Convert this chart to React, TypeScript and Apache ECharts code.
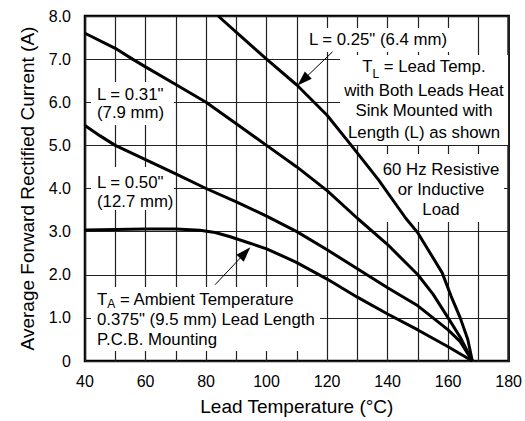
import React, { useEffect, useRef } from "react";
import * as echarts from "echarts";

// ---- axes ----
const X_MIN = 40;
const X_MAX = 180;
const X_STEP = 20;
const Y_MIN = 0;
const Y_MAX = 8;
const Y_STEP = 1;
const X_NAME = "Lead Temperature (°C)";
const Y_NAME = "Average Forward Rectified Current (A)";

// ---- curves: [lead temperature °C, current A] ----
const L025: [number, number][] = [
  [84, 8.0], [92, 7.5], [100, 7.0], [110, 6.4], [120, 5.7], [128, 5.0],
  [137, 4.2], [146, 3.31], [150, 2.97], [158, 2.05], [161, 1.5], [164, 1.0],
  [166.5, 0.5], [168, 0],
];
const L031: [number, number][] = [
  [40, 7.6], [50, 7.25], [55.7, 7.0], [60, 6.82], [70, 6.41], [80, 6.0],
  [90, 5.5], [100, 5.0], [110, 4.5], [120, 3.95], [130, 3.31], [140, 2.7],
  [150, 2.0], [155, 1.55], [160, 1.0], [164, 0.55], [168, 0],
];
const L050: [number, number][] = [
  [40, 5.46], [45, 5.22], [50, 5.0], [60, 4.67], [70, 4.34], [80, 4.0],
  [90, 3.69], [100, 3.36], [110, 3.0], [120, 2.58], [130, 2.14], [140, 1.7],
  [150, 1.28], [160, 0.72], [164, 0.45], [168, 0],
];
const TA: [number, number][] = [
  [40, 3.04], [60, 3.06], [70, 3.06], [78, 3.03], [83, 2.98], [88, 2.88],
  [95, 2.72], [100, 2.6], [107, 2.38], [110, 2.28], [120, 1.9], [130, 1.48],
  [140, 1.09], [150, 0.72], [160, 0.33], [168, 0],
];

// ---- arrows: [tail, head] in data coordinates ----
const ARROW_025: [number, number][] = [[121.8, 7.17], [112.0, 6.51]];
const ARROW_TA: [number, number][] = [[83.0, 1.77], [92.95, 2.51]];

// ---- annotation texts ----
const TXT_025 = 'L = 0.25" (6.4 mm)';
const TXT_TL_REST = " = Lead Temp.";
const TXT_TL_LINES = ["with Both Leads Heat", "Sink Mounted with", "Length (L) as shown"];
const TXT_60HZ = ["60 Hz Resistive", "or Inductive", "Load"];
const TXT_031 = ['L = 0.31"', "(7.9 mm)"];
const TXT_050 = ['L = 0.50"', "(12.7 mm)"];
const TXT_TA_REST = " = Ambient Temperature";
const TXT_TA_LINES = ['0.375" (9.5 mm) Lead Length', "P.C.B. Mounting"];

const FONT_FAMILY = '"Liberation Sans", Arial, Helvetica, sans-serif';
const ANN = 16.8;
const SUB = 12;

function textWidth(t: string, size: number): number {
  const ctx = document.createElement("canvas").getContext("2d");
  if (!ctx) return t.length * size * 0.55;
  ctx.font = `${size}px ${FONT_FAMILY}`;
  return ctx.measureText(t).width;
}

function txt(text: string, x: number, y: number, align = "center", size = ANN) {
  return {
    type: "text",
    x,
    y,
    z: 1,
    silent: true,
    style: {
      text,
      font: `${size}px ${FONT_FAMILY}`,
      fill: "#000",
      textAlign: align,
      textVerticalAlign: "middle",
    },
  };
}

function box(x: number, y: number, w: number, h: number) {
  return {
    type: "rect",
    z: 1,
    silent: true,
    shape: { x, y, width: w, height: h },
    style: { fill: "#fff" },
  };
}

export default function App() {
  const ref = useRef<HTMLDivElement>(null);

  useEffect(() => {
    if (!ref.current) return;
    const chart = echarts.init(ref.current, undefined, { renderer: "svg" });

    // T_L line composed of pieces, centred at 424
    const wT = textWidth("T", ANN);
    const wL = textWidth("L", SUB);
    const wRest = textWidth(TXT_TL_REST, ANN);
    const tlStart = 424 - (wT + wL + wRest) / 2;
    const wTA_T = wT;
    const wA = textWidth("A", SUB);

    const graphics: any[] = [
      box(305, 28, 147, 24),
      txt(TXT_025, 378, 39),

      box(340, 55, 168, 90),
      txt("T", tlStart, 66, "left"),
      txt("L", tlStart + wT, 74, "left", SUB),
      txt(TXT_TL_REST, tlStart + wT + wL, 66, "left"),
      txt(TXT_TL_LINES[0], 424, 90),
      txt(TXT_TL_LINES[1], 424, 110.5),
      txt(TXT_TL_LINES[2], 424, 132),

      box(379, 154, 125, 68),
      txt(TXT_60HZ[0], 441, 169),
      txt(TXT_60HZ[1], 441, 189),
      txt(TXT_60HZ[2], 441, 209),

      box(91, 82, 83, 43),
      txt(TXT_031[0], 97, 94, "left"),
      txt(TXT_031[1], 97, 112, "left"),

      box(91, 167, 83, 43),
      txt(TXT_050[0], 97, 182.5, "left"),
      txt(TXT_050[1], 97, 201, "left"),

      box(91, 287, 229, 64),
      txt("T", 97, 299, "left"),
      txt("A", 97 + wTA_T, 304, "left", SUB),
      txt(TXT_TA_REST, 97 + wTA_T + wA, 299, "left"),
      txt(TXT_TA_LINES[0], 97, 319, "left"),
      txt(TXT_TA_LINES[1], 97, 339, "left"),
    ];

    const lineSeries = (data: [number, number][], extra: any = {}) => ({
      type: "line",
      data,
      showSymbol: false,
      symbol: "none",
      silent: true,
      z: 2,
      lineStyle: { color: "#000", width: 3 },
      itemStyle: { color: "#000" },
      ...extra,
    });

    const arrowItem = (a: [number, number][]) => [
      { coord: a[0], symbol: "none" },
      { coord: a[1], symbol: "triangle", symbolSize: [10, 15] },
    ];

    chart.setOption({
      animation: false,
      backgroundColor: "#fff",
      textStyle: { fontFamily: FONT_FAMILY },
      grid: {
        left: 85,
        right: 14,
        top: 16,
        bottom: 57,
        show: true,
        borderColor: "#000",
        borderWidth: 2.5,
        backgroundColor: "transparent",
      },
      xAxis: {
        type: "value",
        min: X_MIN,
        max: X_MAX,
        interval: X_STEP,
        axisLine: { show: false },
        axisTick: { show: false },
        axisLabel: { fontSize: 16, color: "#000", margin: 12, fontFamily: FONT_FAMILY },
        splitLine: { show: true, lineStyle: { color: "#222", width: 1.2 } },
        minorTick: { show: false, splitNumber: 2 },
        minorSplitLine: { show: true, lineStyle: { color: "#222", width: 1.2 } },
        name: X_NAME,
        nameLocation: "middle",
        nameGap: 36,
        nameTextStyle: { fontSize: 19, color: "#000", fontFamily: FONT_FAMILY },
      },
      yAxis: {
        type: "value",
        min: Y_MIN,
        max: Y_MAX,
        interval: Y_STEP,
        axisLine: { show: false },
        axisTick: { show: false },
        axisLabel: {
          fontSize: 16,
          color: "#000",
          margin: 14,
          fontFamily: FONT_FAMILY,
          formatter: (v: number) => (v === 0 ? "0" : v.toFixed(1)),
        },
        splitLine: { show: true, lineStyle: { color: "#222", width: 1.2 } },
        name: Y_NAME,
        nameLocation: "middle",
        nameGap: 48,
        nameTextStyle: { fontSize: 19, color: "#000", fontFamily: FONT_FAMILY },
      },
      series: [
        lineSeries(L025, {
          markLine: {
            silent: true,
            animation: false,
            symbol: ["none", "triangle"],
            symbolSize: [10, 15],
            label: { show: false },
            lineStyle: { color: "#000", width: 1, type: "solid" },
            itemStyle: { color: "#000" },
            emphasis: { disabled: true },
            data: [arrowItem(ARROW_025), arrowItem(ARROW_TA)],
          },
        }),
        lineSeries(L031),
        lineSeries(L050),
        lineSeries(TA),
      ],
      graphic: { elements: graphics },
    });

    return () => chart.dispose();
  }, []);

  return (
    <div
      ref={ref}
      style={{ position: "fixed", left: 0, top: 0, width: 525, height: 421, background: "#fff" }}
    />
  );
}
